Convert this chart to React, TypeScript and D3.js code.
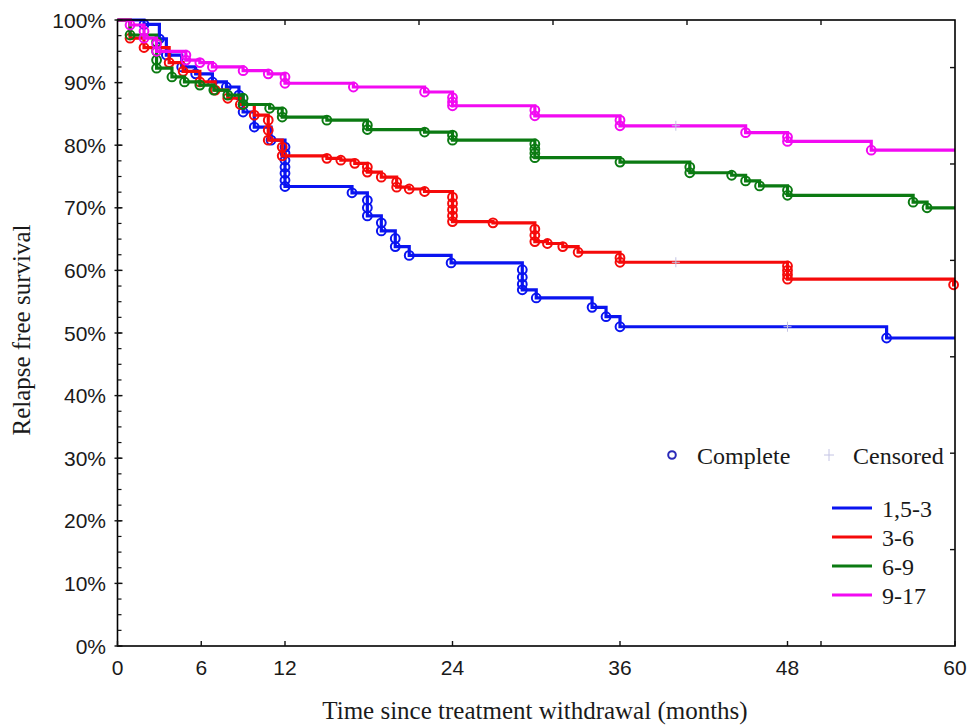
import React from "react";
import * as d3 from "d3";

// ---------- data (time in months, relapse-free survival in %) ----------
const xTickValues = [0, 6, 12, 24, 36, 48, 60];
const xExtraTicks = [50.4];
const topTicks = [12, 21.6, 31.2, 40.8, 50.4];
const yTickValues = [0, 10, 20, 30, 40, 50, 60, 70, 80, 90, 100];
const yMinorTicks = d3.range(0, 100.01, 2.5);
const rightTicks = [15.4, 30.8, 46.2, 61.6, 77.0, 92.4];

const seriesNames = ["1,5-3", "3-6", "6-9", "9-17"];
const seriesColors = ["#0a14f0", "#f50a0a", "#0b7a12", "#f20af2"];

const group1: [number, number][] = [
  [0, 100], [1.9, 99.3], [3, 97], [3.5, 94.4], [4.6, 92.5], [5.6, 91.4], [6.8, 90.1], [7.8, 89.3],
  [8.7, 88], [9, 86.5], [9, 85.3], [9.8, 82.9], [11, 80.8], [12, 79.7], [12, 78.7], [12, 77.6],
  [12, 76.5], [12, 75.5], [12, 74.4], [12, 73.4], [16.8, 72.4], [17.9, 71.2], [17.9, 70.0],
  [17.9, 68.7], [18.9, 67.6], [18.9, 66.3], [19.9, 65.1], [19.9, 63.8], [20.9, 62.4], [23.9, 61.2],
  [29, 60.1], [29, 58.9], [29, 57.8], [29, 56.9], [30, 55.6], [34, 54.1], [35, 52.6], [36, 51.0],
  [55.1, 49.2],
];
const group2: [number, number][] = [
  [0, 100], [0.9, 97.1], [1.9, 95.6], [3.7, 93.2], [4.7, 91.8], [5.9, 90.1], [7, 88.8], [7.9, 87.5],
  [8.8, 86.5], [9.8, 84.8], [10.8, 84.0], [10.8, 82.4], [10.8, 80.8], [11.8, 79.7], [11.8, 78.3],
  [15, 77.9], [16, 77.6], [17, 77.1], [17.9, 76.5], [17.9, 75.7], [18.9, 74.9], [20, 74.1],
  [20, 73.3], [20.9, 73.0], [22, 72.6], [24, 71.7], [24, 70.7], [24, 69.7], [24, 68.7], [24, 67.8],
  [26.9, 67.6], [29.9, 66.6], [29.9, 65.6], [29.9, 64.6], [30.8, 64.3], [31.9, 63.8], [33, 62.9],
  [36, 62.0], [36, 61.3], [48, 60.7], [48, 60.0], [48, 59.3], [48, 58.6], [59.9, 57.7],
];
const group3: [number, number][] = [
  [0, 100], [0.9, 97.6], [2.8, 96.5], [2.8, 95.0], [2.8, 93.6], [2.8, 92.3], [3.9, 90.9],
  [4.8, 90.1], [5.9, 89.6], [6.9, 88.8], [7.9, 88.0], [9, 87.5], [9, 86.5], [10.9, 85.9],
  [11.8, 85.3], [11.8, 84.5], [15, 84.0], [17.9, 83.2], [17.9, 82.5], [22, 82.1], [24, 81.6],
  [24, 80.8], [29.9, 80.2], [29.9, 79.4], [29.9, 78.7], [29.9, 78.0], [36, 77.3], [41, 76.5],
  [41, 75.6], [44, 75.2], [45, 74.3], [46, 73.5], [48, 72.8], [48, 72.0], [57, 70.9], [58, 70.0],
];
const group4: [number, number][] = [
  [0, 100], [0.9, 99.2], [1.9, 98.2], [1.9, 97.1], [2.8, 96.2], [2.8, 95.0], [4.9, 94.4],
  [4.9, 93.6], [5.9, 93.2], [6.8, 92.5], [9, 91.9], [10.8, 91.4], [12, 90.9], [12, 89.9],
  [16.9, 89.3], [22, 88.5], [24, 87.6], [24, 86.9], [24, 86.3], [29.9, 85.6], [29.9, 84.7],
  [36, 84.0], [36, 83.1], [45, 82.0], [48, 81.3], [48, 80.6], [54, 79.2],
];
const allGroups = [group1, group2, group3, group4];

// censored observations: [series index, time, survival]
const censored: [number, number, number][] = [
  [0, 48, 51.0], [1, 40, 61.3], [3, 40, 83.1],
];

// ---------- layout ----------
const W = 970;
const H = 725;
const x = d3.scaleLinear().domain([0, 60]).range([117.5, 955]);
const y = d3.scaleLinear().domain([0, 100]).range([646, 20]);
const line = d3
  .line<[number, number]>()
  .x((d) => x(d[0]))
  .y((d) => y(d[1]))
  .curve(d3.curveStepAfter);

const sans = "'Liberation Sans', Arial, sans-serif";
const serif = "'Liberation Serif', 'Times New Roman', serif";

export default function App() {
  const [x0, x1] = x.range();
  const [yb, yt] = y.range();
  return (
    <svg width={W} height={H} style={{ position: "absolute", left: 0, top: 0, background: "#fff" }}>
      <rect x={0} y={0} width={W} height={H} fill="#fff" />

      {/* survival curves */}
      {allGroups.map((g, i) => {
        const pts: [number, number][] = [...g, [60, g[g.length - 1][1]]];
        return (
          <g key={i}>
            <path d={line(pts) || ""} fill="none" stroke={seriesColors[i]} strokeWidth={3.2} />
            {g.slice(1).map((d, j) => (
              <circle
                key={j}
                cx={x(d[0])}
                cy={y(d[1])}
                r={4.4}
                fill="none"
                stroke={seriesColors[i]}
                strokeWidth={2}
              />
            ))}
          </g>
        );
      })}

      {/* censored marks */}
      {censored.map((c, k) => (
        <g key={k} stroke="#c4c4e4" strokeWidth={1}>
          <line x1={x(c[1]) - 4} x2={x(c[1]) + 4} y1={y(c[2])} y2={y(c[2])} />
          <line x1={x(c[1])} x2={x(c[1])} y1={y(c[2]) - 5} y2={y(c[2]) + 5} />
        </g>
      ))}

      {/* frame */}
      <rect x={x0} y={yt} width={x1 - x0} height={yb - yt} fill="none" stroke="#000" strokeWidth={1.6} />

      {/* left axis ticks */}
      {yMinorTicks.map((v) => (
        <line key={"ym" + v} x1={x0} x2={x0 + 4} y1={y(v)} y2={y(v)} stroke="#111" strokeWidth={1.2} />
      ))}
      {yTickValues.map((v) => (
        <g key={"y" + v}>
          <line x1={x0 - 3} x2={x0 + 5} y1={y(v)} y2={y(v)} stroke="#111" strokeWidth={1.4} />
          <text
            x={106}
            y={y(v) + 7.5}
            textAnchor="end"
            fontFamily={sans}
            fontSize={21}
            fill="#1a1a1a"
          >
            {v + "%"}
          </text>
        </g>
      ))}

      {/* right ticks */}
      {rightTicks.map((v) => (
        <line key={"r" + v} x1={x1 - 5} x2={x1} y1={y(v)} y2={y(v)} stroke="#111" strokeWidth={1.4} />
      ))}

      {/* top ticks */}
      {topTicks.map((v) => (
        <line key={"t" + v} x1={x(v)} x2={x(v)} y1={yt} y2={yt + 5} stroke="#111" strokeWidth={1.4} />
      ))}

      {/* bottom ticks */}
      {[...xTickValues, ...xExtraTicks].map((v) => (
        <line key={"b" + v} x1={x(v)} x2={x(v)} y1={yb} y2={yb - 5} stroke="#111" strokeWidth={1.4} />
      ))}
      {xTickValues.map((v) => (
        <text
          key={"bl" + v}
          x={x(v)}
          y={675}
          textAnchor="middle"
          fontFamily={sans}
          fontSize={21}
          fill="#1a1a1a"
        >
          {v}
        </text>
      ))}

      {/* axis titles */}
      <text x={535} y={719} textAnchor="middle" fontFamily={serif} fontSize={25} fill="#1a1a1a">
        Time since treatment withdrawal (months)
      </text>
      <text
        transform="translate(30,330) rotate(-90)"
        textAnchor="middle"
        fontFamily={serif}
        fontSize={25}
        fill="#1a1a1a"
      >
        Relapse free survival
      </text>

      {/* legend */}
      <circle cx={672} cy={455} r={3.8} fill="none" stroke="#2a2ab8" strokeWidth={2} />
      <text x={697} y={464} fontFamily={serif} fontSize={24} fill="#1a1a1a">
        Complete
      </text>
      <g stroke="#c4c4e4" strokeWidth={1}>
        <line x1={824} x2={834} y1={455} y2={455} />
        <line x1={829} x2={829} y1={449} y2={461} />
      </g>
      <text x={853} y={464} fontFamily={serif} fontSize={24} fill="#1a1a1a">
        Censored
      </text>
      {seriesNames.map((name, i) => {
        const ly = 508 + i * 29;
        return (
          <g key={name}>
            <line x1={832} x2={872} y1={ly} y2={ly} stroke={seriesColors[i]} strokeWidth={3} />
            <text x={882} y={ly + 9} fontFamily={serif} fontSize={24} fill="#1a1a1a">
              {name}
            </text>
          </g>
        );
      })}
    </svg>
  );
}
